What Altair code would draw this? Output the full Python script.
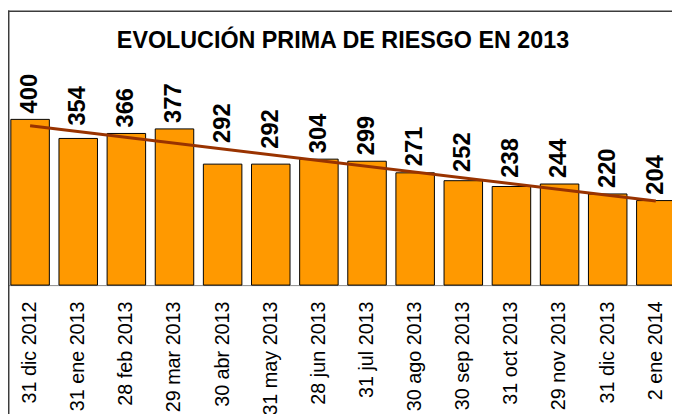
import json
import altair as alt
import pandas as pd

fechas = ["31 dic 2012", "31 ene 2013", "28 feb 2013", "29 mar 2013", "30 abr 2013",
          "31 may 2013", "28 jun 2013", "31 jul 2013", "30 ago 2013", "30 sep 2013",
          "31 oct 2013", "29 nov 2013", "31 dic 2013", "2 ene 2014"]
prima = [400, 354, 366, 377, 292, 292, 304, 299, 271, 252, 238, 244, 220, 204]
titulo = "EVOLUCIÓN PRIMA DE RIESGO EN 2013"

df = pd.DataFrame({"idx": list(range(len(prima))), "fecha": fechas, "prima": prima})
one = pd.DataFrame({"k": [0]})

W = 672
H = 278
FONT = "Liberation Sans"
YSCALE = alt.Scale(domain=[0, 663], nice=False, zero=True)

x_enc = alt.X(
    "idx:O",
    scale=alt.Scale(range=[-2, 680], paddingInner=0.2, paddingOuter=0.1),
    axis=alt.Axis(
        title=None,
        labelExpr=json.dumps(fechas) + "[datum.value]",
        labelAngle=270,
        labelFont=FONT,
        labelFontSize=20,
        labelColor="black",
        labelPadding=16,
        labelOverlap=False,
        ticks=False,
        domainColor="#8a8a8a",
        domainWidth=1,
        grid=False,
    ),
)
y_enc = alt.Y("prima:Q", scale=YSCALE, axis=None)

bars = alt.Chart(df).mark_bar(color="#FF9900", stroke="black", strokeWidth=1).encode(
    x=x_enc, y=y_enc
)

trend = (
    alt.Chart(df)
    .transform_regression("idx", "prima", method="linear")
    .mark_line(color="#993300", strokeWidth=3)
    .encode(x=x_enc, y=y_enc)
)

labels = (
    alt.Chart(df)
    .transform_joinaggregate(mi="mean(idx)", mv="mean(prima)")
    .transform_calculate(
        dxy="(datum.idx - datum.mi) * (datum.prima - datum.mv)",
        dxx="(datum.idx - datum.mi) * (datum.idx - datum.mi)",
    )
    .transform_joinaggregate(sxy="sum(dxy)", sxx="sum(dxx)")
    .transform_calculate(
        pos="max(datum.prima, datum.mv + datum.sxy / datum.sxx * (datum.idx - datum.mi))"
    )
    .mark_text(angle=270, align="left", baseline="middle", dx=6, font=FONT,
               fontSize=24, fontWeight="bold", color="black")
    .encode(x=x_enc, y=alt.Y("pos:Q", scale=YSCALE, axis=None),
            text=alt.Text("prima:Q", format="d"))
)

frame_left = alt.Chart(one).mark_rule(color="#3c3c3c", strokeWidth=1.5).encode(
    x=alt.value(0.75), y=alt.value(0), y2=alt.value(410)
)
frame_top = alt.Chart(one).mark_rule(color="#3c3c3c", strokeWidth=1.5).encode(
    x=alt.value(0), x2=alt.value(W), y=alt.value(0.75)
)
title_layer = alt.Chart(one).mark_text(
    font=FONT, fontSize=23.6, fontWeight="bold", color="black", align="center", baseline="alphabetic"
).encode(x=alt.value(339), y=alt.value(38.5), text=alt.value(titulo))

chart = (
    alt.layer(bars, trend, labels, frame_left, frame_top, title_layer)
    .properties(
        width=W,
        height=H,
        autosize=alt.AutoSizeParams(type="none"),
        padding={"left": 0, "top": 0, "right": 0, "bottom": 128},
    )
    .configure_view(stroke=None)
    .configure_axis(grid=False)
)

chart.save("out.html", embed_options={"renderer": "svg", "actions": False})
